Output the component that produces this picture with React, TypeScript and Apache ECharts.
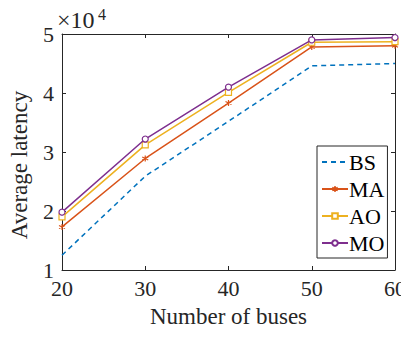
import React, { useEffect, useRef } from "react";
import * as echarts from "echarts";

const busNumbers = [20, 30, 40, 50, 60];
const bsLatency = [12500, 25900, 35200, 44600, 45000];
const maLatency = [17300, 28900, 38300, 47800, 48000];
const aoLatency = [19000, 31200, 40100, 48600, 48700];
const moLatency = [19800, 32200, 41000, 49000, 49400];
const seriesNames = ["BS", "MA", "AO", "MO"];
const seriesColors = ["#0072BD", "#D95319", "#EDB120", "#7E2F8E"];

const FONT = "Liberation Serif";
const AXIS_COLOR = "#262626";
const ASTERISK = "path://M0,-10L0,10M-8.66,-5L8.66,5M-8.66,5L8.66,-5";

const pairs = (ys: number[]) => busNumbers.map((x, i) => [x, ys[i]]);

export default function App() {
  const ref = useRef<HTMLDivElement>(null);
  useEffect(() => {
    if (!ref.current) return;
    const chart = echarts.init(ref.current, undefined, { renderer: "svg" });
    const axisCommon = {
      axisLine: { show: true, lineStyle: { color: AXIS_COLOR, width: 1 } },
      axisTick: { show: true, inside: true, length: 4, lineStyle: { color: AXIS_COLOR } },
      splitLine: { show: false },
    };
    const mk = (idx: number, data: number[], symbol: string) => ({
      name: seriesNames[idx],
      type: "line",
      data: pairs(data),
      symbol,
      symbolSize: 6,
      lineStyle: { color: seriesColors[idx], width: 1.5 },
      itemStyle: { color: "#ffffff", borderColor: seriesColors[idx], borderWidth: 1.2 },
      color: seriesColors[idx],
      z: 2 + idx,
    });
    const labelStyle = { fontFamily: FONT, fontSize: 22, color: "#262626" };
    chart.setOption({
      animation: false,
      backgroundColor: "#ffffff",
      textStyle: { fontFamily: FONT },
      grid: { left: 55, right: 13, top: 34, bottom: 69, containLabel: false },
      xAxis: [
        {
          type: "value",
          min: 20,
          max: 60,
          interval: 10,
          position: "bottom",
          name: "Number of buses",
          nameLocation: "middle",
          nameGap: 35,
          nameTextStyle: { fontFamily: FONT, fontSize: 23, color: "#262626" },
          axisLabel: {
            margin: 7,
            formatter: "{t|{value}}",
            rich: { t: { ...labelStyle } },
          },
          ...axisCommon,
        },
        {
          type: "value",
          min: 20,
          max: 60,
          interval: 10,
          position: "top",
          axisLabel: { show: false },
          ...axisCommon,
        },
      ],
      yAxis: [
        {
          type: "value",
          min: 10000,
          max: 50000,
          interval: 10000,
          position: "left",
          name: "Average latency",
          nameLocation: "middle",
          nameGap: 31,
          nameTextStyle: {
            fontFamily: FONT,
            fontSize: 23,
            color: "#262626",
            padding: [0, 26, 0, 0],
          },
          axisLabel: {
            margin: 8,
            formatter: (v: number) => "{t|" + String(v / 10000) + "}",
            rich: { t: { ...labelStyle } },
          },
          ...axisCommon,
        },
        {
          type: "value",
          min: 10000,
          max: 50000,
          interval: 10000,
          position: "right",
          axisLabel: { show: false },
          ...axisCommon,
        },
      ],
      legend: {
        orient: "vertical",
        left: 317,
        top: 146,
        itemWidth: 26,
        itemHeight: 7,
        itemGap: 5,
        padding: [5, 3, 4, 4],
        backgroundColor: "#ffffff",
        borderColor: "#262626",
        borderWidth: 1,
        borderRadius: 0,
        textStyle: { fontFamily: FONT, fontSize: 22, color: "#000000", padding: [0, 0, 0, -4] },
        data: [
          {
            name: "BS",
            itemStyle: { color: "transparent", borderColor: "transparent", borderWidth: 0, opacity: 0 },
          },
          { name: "MA" },
          { name: "AO" },
          { name: "MO" },
        ],
      },
      graphic: [
        {
          type: "text",
          left: 57,
          top: 8,
          style: { text: "×10", fontFamily: FONT, fontSize: 24, fill: "#262626" },
        },
        {
          type: "text",
          left: 98,
          top: 6,
          style: { text: "4", fontFamily: FONT, fontSize: 16, fill: "#262626" },
        },
      ],
      series: [
        {
          ...mk(0, bsLatency, "none"),
          showSymbol: false,
          lineStyle: { color: seriesColors[0], width: 1.5, type: [5, 4] },
        },
        mk(1, maLatency, ASTERISK),
        mk(2, aoLatency, "rect"),
        mk(3, moLatency, "circle"),
      ],
    });
    return () => chart.dispose();
  }, []);
  return <div ref={ref} style={{ width: 409, height: 339, margin: -8 }} />;
}
